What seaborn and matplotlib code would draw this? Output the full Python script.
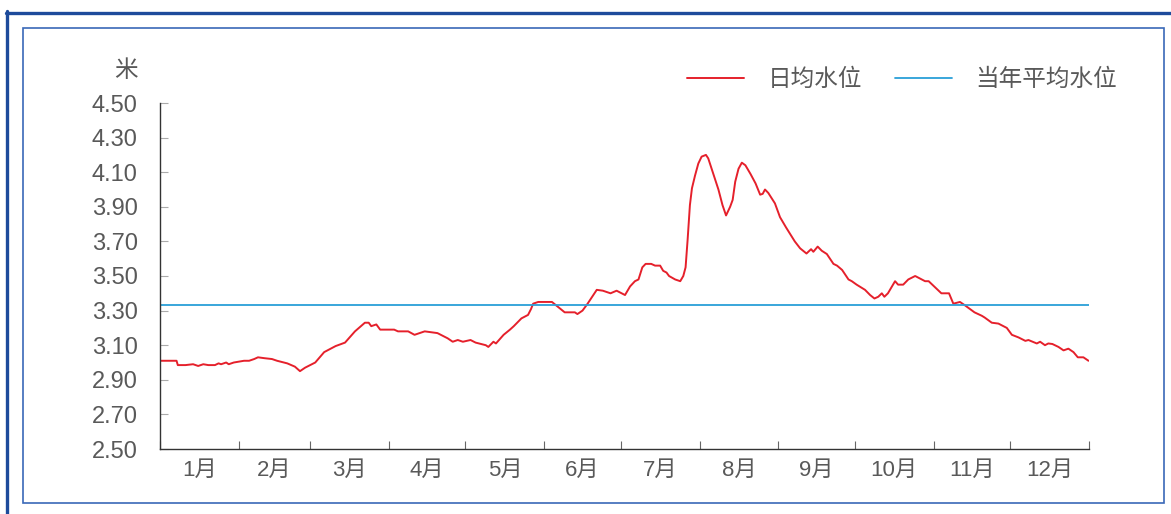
import numpy as np
import pandas as pd
import seaborn as sns
import matplotlib
matplotlib.use("Agg")
import matplotlib.pyplot as plt
from matplotlib.lines import Line2D
from matplotlib.patches import Rectangle

# Daily water level (day of year, metres)
days = [0, 6.5, 7, 10, 13, 15, 17, 19, 21.6, 23, 24, 26, 27, 29, 31, 33, 35, 37, 38.5,
        41, 44, 46, 50, 53, 55, 57, 61, 64.5, 69, 72.7, 76.6, 80.5, 82, 83, 85, 86.5,
        92, 93.5, 97.5, 100, 104, 109, 113, 115, 117, 119, 122, 124, 128, 129, 131, 132,
        135, 137.5, 139, 142, 144.6, 145.8, 146.6, 148.6, 154, 159, 163, 164, 166, 168,
        171.6, 174, 177, 179.4, 182.7, 184.7, 186.6, 188, 189.5, 190.8, 193, 194.5,
        196.5, 197.7, 199, 200, 202.4, 204.4, 205.6, 206.5, 207.3, 208.2, 209, 210.2,
        211.5, 212.8, 214.5, 215.4, 217.4, 219.4, 221, 222.4, 224, 225, 226, 227.3,
        228.6, 230, 232, 234, 235.8, 236.8, 237.7, 239, 241.6, 243.6, 246, 249.4, 251.5,
        254, 255.8, 256.7, 258.4, 260, 262, 264.6, 266, 268, 270.5, 271.8, 273.7, 277,
        279, 280.7, 282.2, 283.6, 284.6, 286, 288.8, 290, 292, 294, 296.7, 298, 300.6,
        302, 304.5, 307, 310, 311.7, 314.3, 316.3, 320, 322.9, 324, 326.8, 329.4, 331.4,
        332.7, 334.7, 337.3, 340, 341.2, 344.5, 345.8, 347.7, 349, 350.6, 353, 355,
        356.9, 358.9, 360.6, 362.8, 364.8]
levels = [3.01, 3.01, 2.985, 2.985, 2.99, 2.98, 2.99, 2.985, 2.985, 2.995, 2.99, 3.0,
          2.99, 3.0, 3.005, 3.01, 3.01, 3.02, 3.03, 3.025, 3.02, 3.01, 2.995, 2.976,
          2.95, 2.97, 3.0, 3.06, 3.095, 3.115, 3.18, 3.23, 3.23, 3.21, 3.22, 3.19,
          3.19, 3.18, 3.18, 3.16, 3.18, 3.17, 3.14, 3.12, 3.13, 3.12, 3.13, 3.115, 3.10,
          3.09, 3.12, 3.11, 3.16, 3.19, 3.21, 3.255, 3.275, 3.31, 3.34, 3.35, 3.35,
          3.29, 3.29, 3.28, 3.30, 3.34, 3.42, 3.415, 3.40, 3.415, 3.39, 3.44, 3.47,
          3.48, 3.55, 3.57, 3.57, 3.56, 3.56, 3.53, 3.52, 3.50, 3.48, 3.47, 3.50, 3.55,
          3.71, 3.91, 4.007, 4.08, 4.15, 4.19, 4.20, 4.18, 4.09, 4.00, 3.91, 3.85, 3.90,
          3.94, 4.045, 4.12, 4.155, 4.14, 4.09, 4.035, 3.97, 3.975, 4.00, 3.98, 3.92,
          3.84, 3.78, 3.70, 3.66, 3.63, 3.655, 3.64, 3.67, 3.646, 3.627, 3.57, 3.56,
          3.535, 3.48, 3.47, 3.45, 3.42, 3.39, 3.37, 3.38, 3.40, 3.38, 3.40, 3.47, 3.45,
          3.45, 3.48, 3.50, 3.49, 3.47, 3.47, 3.435, 3.40, 3.40, 3.34, 3.35, 3.33, 3.29,
          3.27, 3.26, 3.23, 3.225, 3.21, 3.20, 3.16, 3.145, 3.125, 3.13, 3.11, 3.12,
          3.10, 3.11, 3.107, 3.09, 3.07, 3.08, 3.06, 3.03, 3.03, 3.01]
annual_mean = 3.33

month_labels = ["1月", "2月", "3月", "4月", "5月", "6月", "7月", "8月", "9月",
                "10月", "11月", "12月"]
month_days = [31, 28, 31, 30, 31, 30, 31, 31, 30, 31, 30, 31]
y_ticks = [2.50, 2.70, 2.90, 3.10, 3.30, 3.50, 3.70, 3.90, 4.10, 4.30, 4.50]

series_label = "日均水位"
mean_label = "当年平均水位"
unit_label = "米"

RED = "#e5202b"
BLUE = "#2a9fd8"
TEXT = "#595959"
NAVY = "#1d4b9b"

sns.set_theme(style="white")
plt.rcParams["font.family"] = ["Liberation Sans", "Noto Sans CJK SC", "DejaVu Sans"]

fig = plt.figure(figsize=(11.71, 5.14), dpi=100)
ax = fig.add_axes([160 / 1171, 1 - 449 / 514, (1089 - 160) / 1171, (449 - 103) / 514])

df = pd.DataFrame({"day": days, "level": levels})
sns.lineplot(data=df, x="day", y="level", ax=ax, color=RED, lw=1.4,
             label=series_label, sort=True)
ax.axhline(annual_mean, color=BLUE, lw=1.3, label=mean_label)

edges = np.concatenate([[0], np.cumsum(month_days)])
mids = (edges[:-1] + edges[1:]) / 2
ax.set_xlim(0, edges[-1])
ax.set_ylim(y_ticks[0], y_ticks[-1])
ax.set_xticks(edges)
ax.set_xticklabels([])
ax.set_xticks(mids, minor=True)
ax.set_xticklabels(month_labels, minor=True)
ax.set_yticks(y_ticks)
ax.set_yticklabels([f"{v:.2f}" for v in y_ticks])
ax.set_xlabel("")
ax.set_ylabel("")

ax.tick_params(axis="x", which="major", direction="in", length=6, width=0.8,
               color="#666666", bottom=True)
ax.tick_params(axis="x", which="minor", length=0, pad=8, labelsize=16,
               labelcolor=TEXT)
ax.tick_params(axis="y", which="major", direction="in", length=6, width=0.8,
               color="#aaaaaa", left=True, pad=16, labelsize=17, labelcolor=TEXT)

for side in ["top", "right"]:
    ax.spines[side].set_visible(False)
for side in ["left", "bottom"]:
    ax.spines[side].set_color("#333333")
    ax.spines[side].set_linewidth(1.0)

leg = ax.legend(loc="center right", bbox_to_anchor=(1117 / 1171, 1 - 80 / 514),
                bbox_transform=fig.transFigure, ncol=2, frameon=False,
                handlelength=2.4, handletextpad=1.0, columnspacing=1.4,
                fontsize=17, borderaxespad=0, borderpad=0)
for t in leg.get_texts():
    t.set_color(TEXT)

fig.text(126 / 1171, 1 - 71 / 514, unit_label, ha="center", va="center",
         fontsize=17, color=TEXT)

# Outer frame: heavy rule along the top and left edges
fig.add_artist(Line2D([6 / 1171, 1], [1 - 12.5 / 514, 1 - 12.5 / 514],
                      transform=fig.transFigure, color=NAVY, lw=2.4))
fig.add_artist(Line2D([7 / 1171, 7 / 1171], [0, 1 - 11 / 514],
                      transform=fig.transFigure, color=NAVY, lw=2.4))
# Inner frame
fig.add_artist(Rectangle((22.5 / 1171, 1 - 503 / 514), (1164 - 22.5) / 1171,
                         (503 - 27.5) / 514, transform=fig.transFigure,
                         fill=False, edgecolor="#3a68b8", lw=1.2))

fig.savefig("out.png", dpi=100)
